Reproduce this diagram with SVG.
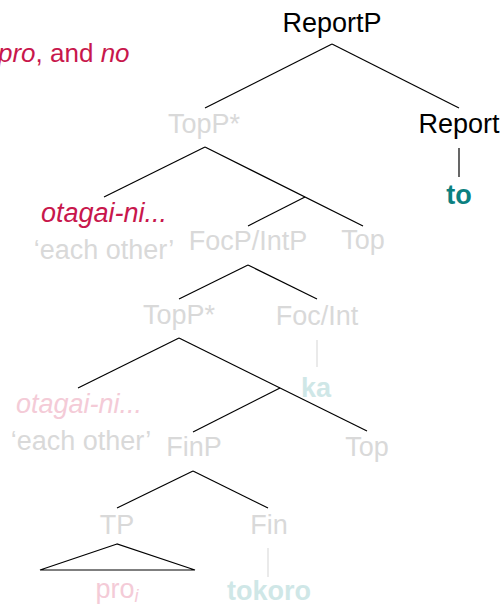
<svg xmlns="http://www.w3.org/2000/svg" width="502" height="605" viewBox="0 0 502 605">
  <style>
    text { font-family: "Liberation Sans", Arial, sans-serif; font-size: 27px; text-anchor: middle; }
    .lab { fill: #000000; }
    .dim { fill: #d9d9d9; }
    .red { fill: #c8174c; font-style: italic; }
    .redDim { fill: #f4cbd7; font-style: italic; }
    .teal { fill: #0b8080; font-weight: bold; }
    .tealDim { fill: #cfe7e7; font-weight: bold; }
    .it { font-style: italic; }
    .edge { stroke: #000000; stroke-width: 1.2; fill: none; }
    .edgeDim { stroke: #dcdcdc; stroke-width: 1.2; fill: none; }
  </style>

  <!-- running text at the top left -->
  <text id="caption" x="-2" y="62" style="text-anchor:start; fill:#c8174c; font-size:26px"><tspan class="it">pro</tspan>, and <tspan class="it">no</tspan></text>

  <!-- branches -->
  <g id="connectors">
    <line class="edge" x1="332" y1="44" x2="205" y2="108"/>
    <line class="edge" x1="332" y1="44" x2="459" y2="108"/>
    <line class="edge" x1="459" y1="148" x2="459" y2="177"/>
    <line class="edge" x1="205" y1="147" x2="104" y2="197"/>
    <line class="edge" x1="205" y1="147" x2="363" y2="226"/>
    <line class="edge" x1="305" y1="197" x2="248" y2="226"/>
    <line class="edge" x1="248" y1="265" x2="179" y2="299"/>
    <line class="edge" x1="248" y1="265" x2="317" y2="299"/>
    <line class="edgeDim" x1="317" y1="340" x2="317" y2="367"/>
    <line class="edge" x1="179" y1="338" x2="78" y2="388"/>
    <line class="edge" x1="179" y1="338" x2="367" y2="431"/>
    <line class="edge" x1="280" y1="388" x2="193" y2="432"/>
    <line class="edge" x1="193" y1="471" x2="117" y2="508"/>
    <line class="edge" x1="193" y1="471" x2="268" y2="508"/>
    <polygon class="edge" points="117,544 40,570 195,570"/>
    <line class="edgeDim" x1="268" y1="548" x2="268" y2="577"/>
  </g>

  <g id="reportP"><text class="lab" x="332" y="32">ReportP</text></g>
  <g id="report"><text class="lab" x="459" y="133">Report</text></g>
  <g id="to"><text class="teal" x="459" y="204">to</text></g>

  <g id="topP1"><text class="dim" x="204" y="133">TopP*</text></g>
  <g id="otagai1">
    <text class="red" x="104" y="222">otagai-ni...</text>
    <text class="dim" x="104" y="259">‘each other’</text>
  </g>
  <g id="focP"><text class="dim" x="248" y="250">FocP/IntP</text></g>
  <g id="top1"><text class="dim" x="363" y="249">Top</text></g>

  <g id="topP2"><text class="dim" x="179" y="324">TopP*</text></g>
  <g id="focInt"><text class="dim" x="317" y="325">Foc/Int</text></g>
  <g id="ka"><text class="tealDim" x="316" y="397">ka</text></g>

  <g id="otagai2">
    <text class="redDim" x="79" y="413">otagai-ni...</text>
    <text class="dim" x="81" y="450">‘each other’</text>
  </g>
  <g id="finP"><text class="dim" x="194" y="456">FinP</text></g>
  <g id="top2"><text class="dim" x="367" y="456">Top</text></g>

  <g id="tp"><text class="dim" x="117" y="534">TP</text></g>
  <g id="fin"><text class="dim" x="269" y="534">Fin</text></g>
  <g id="pro"><text x="117" y="598" style="fill:#f4cbd7">pro<tspan class="it" font-size="18" dy="4">i</tspan></text></g>
  <g id="tokoro"><text class="tealDim" x="269" y="600">tokoro</text></g>
</svg>
